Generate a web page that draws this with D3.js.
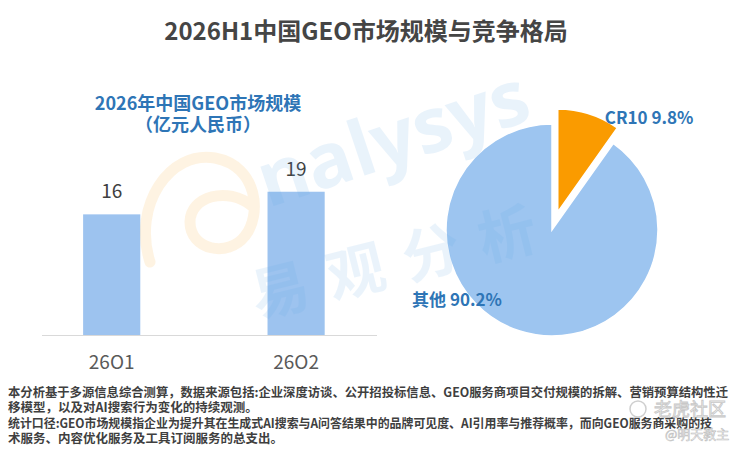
<!DOCTYPE html>
<html lang="zh">
<head>
<meta charset="UTF-8">
<title>2026H1中国GEO市场规模与竞争格局</title>
<script src="https://d3js.org/d3.v7.min.js"></script>
<style>
  body { margin: 0; background: #fff; }
  svg { display: block; font-family: "Noto Sans CJK SC", "Noto Sans", sans-serif; }
  .foot { font-size: 12.5px; font-weight: bold; fill: #3f3f3f; }
</style>
</head>
<body>
<script>
// data
const quarters = ["26O1", "26O2"];
const marketSize = [16, 19];
const shareNames = ["CR10", "其他"];
const shareValues = [9.8, 90.2];
const notes = [
  "本分析基于多源信息综合测算，数据来源包括:企业深度访谈、公开招投标信息、GEO服务商项目交付规模的拆解、营销预算结构性迁",
  "移模型，以及对AI搜索行为变化的持续观测。",
  "统计口径:GEO市场规模指企业为提升其在生成式AI搜索与A问答结果中的品牌可见度、AI引用率与推荐概率，而向GEO服务商采购的技",
  "术服务、内容优化服务及工具订阅服务的总支出。"
];

const W = 741, H = 451;
const svg = d3.select("body").append("svg")
  .attr("width", W).attr("height", H);

svg.append("rect").attr("width", W).attr("height", H).attr("fill", "#fff");

// title
svg.append("text")
  .attr("x", 366).attr("y", 40)
  .attr("text-anchor", "middle")
  .style("font-size", "24px").style("font-weight", "bold")
  .attr("fill", "#454545")
  .text("2026H1中国GEO市场规模与竞争格局");

// bar chart
const base = 335;
const x = d3.scaleBand().domain(quarters)
  .range([19.5, 388.3]).paddingInner(0.69).paddingOuter(0.345);
const y = d3.scaleLinear().domain([0, 20]).range([base, base - 150.8]);

svg.append("text")
  .attr("x", 198).attr("y", 110)
  .attr("text-anchor", "middle")
  .style("font-size", "18px").style("font-weight", "bold")
  .attr("fill", "#2e75b6")
  .text("2026年中国GEO市场规模");
svg.append("text")
  .attr("x", 198).attr("y", 131)
  .attr("text-anchor", "middle")
  .style("font-size", "18px").style("font-weight", "bold")
  .attr("fill", "#2e75b6")
  .text("（亿元人民币）");

const bars = quarters.map((q, i) => ({ q, v: marketSize[i] }));

svg.selectAll(".bar").data(bars).enter().append("rect")
  .attr("class", "bar")
  .attr("x", d => x(d.q))
  .attr("width", x.bandwidth())
  .attr("y", d => y(d.v))
  .attr("height", d => y(0) - y(d.v))
  .attr("fill", "#9dc3ef");

svg.append("line")
  .attr("x1", 42).attr("x2", 377)
  .attr("y1", base + 0.5).attr("y2", base + 0.5)
  .attr("stroke", "#d9d9d9").attr("stroke-width", 1);

svg.selectAll(".val").data(bars).enter().append("text")
  .attr("class", "val")
  .attr("x", d => x(d.q) + x.bandwidth() / 2)
  .attr("y", d => y(d.v) - 16)
  .attr("text-anchor", "middle")
  .style("font-size", "19px")
  .attr("fill", "#404040")
  .text(d => d.v);

svg.selectAll(".cat").data(quarters).enter().append("text")
  .attr("class", "cat")
  .attr("x", d => x(d) + x.bandwidth() / 2)
  .attr("y", 369)
  .attr("text-anchor", "middle")
  .style("font-size", "19px")
  .attr("fill", "#595959")
  .text(d => d);

// pie chart
const cx = 552, cy = 230, R = 106;
const pie = d3.pie().sort(null).value(d => d.v);
const slices = pie(shareNames.map((n, i) => ({ n, v: shareValues[i] })));
const colors = ["#fa9b00", "#9dc5f0"];

const pg = svg.append("g").attr("transform", `translate(${cx},${cy})`);
pg.selectAll("path").data(slices).enter().append("path")
  .attr("d", (d, i) => d3.arc().innerRadius(0).outerRadius(i === 0 ? 103 : R)(d))
  .attr("transform", (d, i) => {
    if (i !== 0) return null;
    const a = (d.startAngle + d.endAngle) / 2;
    return `translate(${19 * Math.sin(a)},${-19 * Math.cos(a)})`;
  })
  .attr("fill", (d, i) => colors[i])
  .attr("stroke", "#fff").attr("stroke-width", 1.5);

// pie labels
const s0 = slices[0], s1 = slices[1];
const a0 = (s0.startAngle + s0.endAngle) / 2;
pg.append("text")
  .attr("x", 118 * Math.sin(a0) + 17)
  .attr("y", -118 * Math.cos(a0))
  .attr("dy", "0.35em")
  .style("font-size", "17px").style("font-weight", "bold")
  .attr("fill", "#2e75b6")
  .text(`${s0.data.n} ${s0.data.v}%`);
pg.append("text")
  .attr("x", -R * 1.32)
  .attr("y", R * 0.665)
  .attr("dy", "0.35em")
  .style("font-size", "17px").style("font-weight", "bold")
  .attr("fill", "#2e75b6")
  .text(`${s1.data.n} ${s1.data.v}%`);

// faint analysys watermark
const wm = svg.append("g").attr("pointer-events", "none");
wm.append("path")
  .attr("d", "M150,262 C132,205 170,150 215,158 C258,166 262,215 245,236 C228,258 190,250 190,222 C190,196 228,186 252,206")
  .attr("fill", "none")
  .attr("stroke", "#fbc46c").attr("stroke-width", 11)
  .attr("stroke-linecap", "round").attr("opacity", 0.2);
wm.append("text")
  .attr("transform", "translate(268,208) rotate(-18.5)")
  .style("font-size", "76px").style("font-weight", "bold")
  .style("font-family", "'Open Sans', sans-serif")
  .attr("fill", "#5aa6e6").attr("opacity", 0.13)
  .text("nalysys");
wm.append("text")
  .attr("transform", "translate(257,318) rotate(-14)")
  .style("font-size", "58px").style("font-weight", "bold")
  .style("letter-spacing", "20px")
  .attr("fill", "#5aa6e6").attr("opacity", 0.12)
  .text("易观分析");

// footnotes
const fy = [397, 412, 428, 443];
svg.selectAll(".foot").data(notes).enter().append("text")
  .attr("class", "foot")
  .attr("x", 8)
  .attr("y", (d, i) => fy[i])
  .each(function(d, i) {
    if (i === 0) d3.select(this).attr("textLength", 720).attr("lengthAdjust", "spacingAndGlyphs");
    if (i === 2) d3.select(this).attr("textLength", 704).attr("lengthAdjust", "spacingAndGlyphs");
  })
  .text(d => d);

// platform marks, bottom right
svg.append("circle")
  .attr("cx", 638).attr("cy", 409).attr("r", 8)
  .attr("fill", "none").attr("stroke", "#cfcfcf").attr("stroke-width", 1.5);
svg.append("text")
  .attr("x", 654).attr("y", 416)
  .style("font-size", "18px")
  .attr("fill", "none").attr("stroke", "#c8c8c8").attr("stroke-width", 0.9)
  .text("老虎社区");
svg.append("text")
  .attr("x", 665).attr("y", 439)
  .style("font-size", "13px")
  .attr("fill", "#fff").attr("stroke", "#bdbdbd").attr("stroke-width", 0.6)
  .text("@明天教主");
</script>
</body>
</html>
